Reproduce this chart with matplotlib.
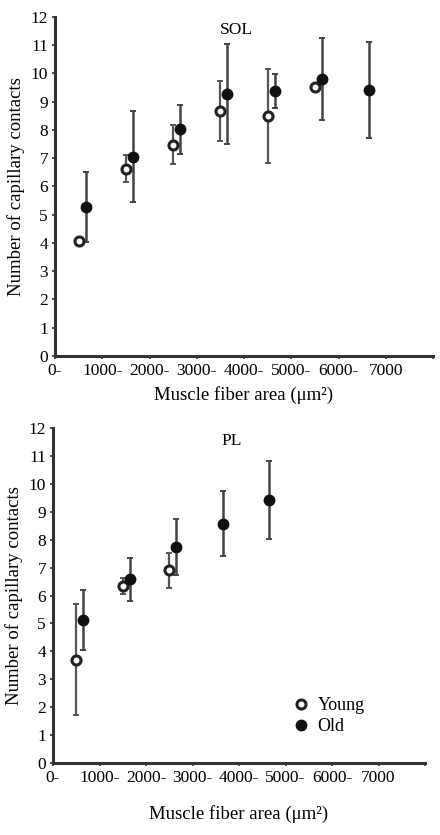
import matplotlib.pyplot as plt

plt.rcParams['font.family'] = ['Liberation Serif', 'DejaVu Serif']

# SOL data (mean, SD)
sol_young_x = [500, 1500, 2500, 3500, 4500, 5500]
sol_young_y = [4.06, 6.63, 7.48, 8.67, 8.50, 9.53]
sol_young_sd = [0.0, 0.48, 0.69, 1.05, 1.67, 0.0]

sol_old_x = [650, 1650, 2650, 3650, 4650, 5650, 6650]
sol_old_y = [5.27, 7.05, 8.02, 9.27, 9.39, 9.81, 9.43]
sol_old_sd = [1.24, 1.61, 0.86, 1.78, 0.60, 1.46, 1.70]

# PL data (mean, SD)
pl_young_x = [500, 1500, 2500]
pl_young_y = [3.70, 6.35, 6.90]
pl_young_sd = [1.98, 0.29, 0.63]

pl_old_x = [650, 1650, 2650, 3650, 4650]
pl_old_y = [5.11, 6.59, 7.74, 8.57, 9.43]
pl_old_sd = [1.08, 0.77, 1.01, 1.17, 1.40]

xticks = [0, 1000, 2000, 3000, 4000, 5000, 6000, 7000, 8000]
xticklabels = ['0-', '1000-', '2000-', '3000-', '4000-', '5000-', '6000-', '7000', '']

fig = plt.figure(figsize=(4.4, 8.35), dpi=100)
ax1 = fig.add_axes([55/440, 1-356/835, 378/440, 339/835])
ax2 = fig.add_axes([53/440, 1-763/835, 372/440, 335/835])


def draw(ax, yx, yy, ysd, ox, oy, osd, title, xpad):
    ax.errorbar(yx, yy, yerr=ysd, fmt='none', ecolor='#555555', elinewidth=1.6,
                capsize=2, capthick=1.4, zorder=2)
    ax.errorbar(ox, oy, yerr=osd, fmt='none', ecolor='#444444', elinewidth=1.8,
                capsize=2, capthick=1.4, zorder=2)
    ax.plot(yx, yy, 'o', ms=6.5, mfc='white', mec='#222222', mew=2.2,
            ls='none', label='Young', zorder=3)
    ax.plot(ox, oy, 'o', ms=7.5, mfc='#111111', mec='#111111',
            ls='none', label='Old', zorder=3)
    ax.set_xlim(0, 8000)
    ax.set_ylim(0, 12)
    ax.set_yticks(range(0, 13))
    ax.set_xticks(xticks)
    ax.set_xticklabels(xticklabels)
    ax.tick_params(labelsize=12.5, length=2, width=1.2, color='#333333', pad=3)
    for s in ['top', 'right']:
        ax.spines[s].set_visible(False)
    for s in ['left', 'bottom']:
        ax.spines[s].set_linewidth(2.2)
        ax.spines[s].set_color('#333333')
    ax.set_ylabel('Number of capillary contacts', fontsize=13.5, labelpad=4)
    ax.set_xlabel('Muscle fiber area (\u03bcm\u00b2)', fontsize=13.5, labelpad=xpad)
    ax.text(0.48, 0.985, title, transform=ax.transAxes, ha='center',
            va='top', fontsize=12.5)


draw(ax1, sol_young_x, sol_young_y, sol_young_sd,
     sol_old_x, sol_old_y, sol_old_sd, 'SOL', 5)
draw(ax2, pl_young_x, pl_young_y, pl_young_sd,
     pl_old_x, pl_old_y, pl_old_sd, 'PL', 14)

ax2.legend(loc='center left', bbox_to_anchor=(0.6, 0.14), frameon=False,
           fontsize=13, handletextpad=0.4, handlelength=1.0,
           labelspacing=0.2)

fig.savefig('out.png', dpi=100)
